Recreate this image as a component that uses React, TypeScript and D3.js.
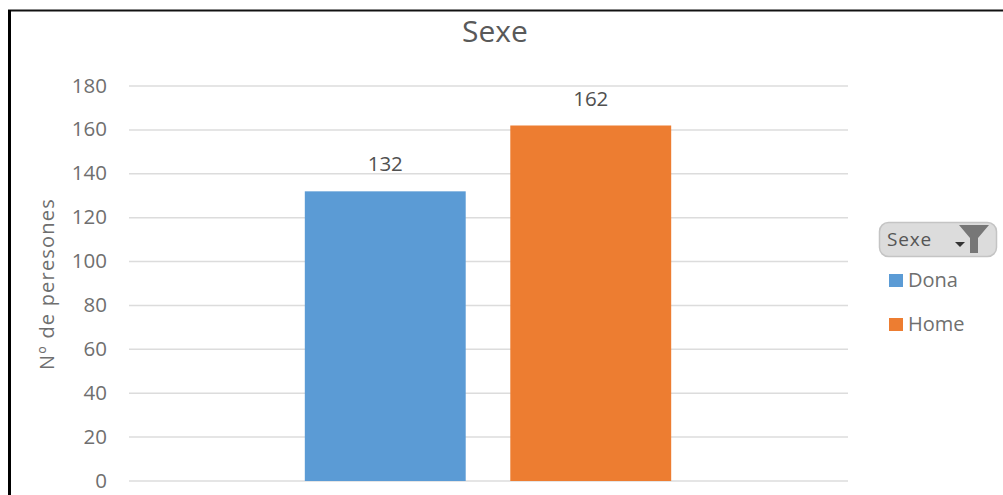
import React from "react";
import * as d3 from "d3";

const categories = ["Dona", "Home"];
const values = [132, 162];
const colors = ["#5B9BD5", "#ED7D31"];
const yTicks = [0, 20, 40, 60, 80, 100, 120, 140, 160, 180];
const chartTitle = "Sexe";
const yAxisTitle = "Nº de peresones";
const font = "'Open Sans', 'Noto Sans', sans-serif";
const inkColor = "#6f6f6f";

export default function App() {
  const y = d3.scaleLinear().domain([0, 180]).range([481, 86]);
  const x = d3.scaleBand<string>().domain(categories).range([128.5, 847.5]).paddingInner(0.217).paddingOuter(0.858);

  return (
    <svg
      width={1003}
      height={495}
      style={{ position: "absolute", left: 0, top: 0, background: "#ffffff" }}
    >
      {/* frame: only the top and left edges fall inside the canvas */}
      <line x1={8} x2={1003} y1={10.5} y2={10.5} stroke="#111" strokeWidth={2} />
      <line x1={9.5} x2={9.5} y1={10} y2={495} stroke="#000" strokeWidth={3} />

      <text x={495} y={42} textAnchor="middle" fontFamily={font} fontSize={30} fill="#595959">
        {chartTitle}
      </text>

      {yTicks.map((t) => (
        <g key={t}>
          <line x1={129} x2={848} y1={y(t)} y2={y(t)} stroke="#dcdcdc" strokeWidth={1.5} />
          <text x={107} y={y(t) + 6.5} textAnchor="end" fontFamily={font} fontSize={20.5} fill={inkColor}>
            {t}
          </text>
        </g>
      ))}

      <text
        transform={`translate(54,284) rotate(-90)`}
        textAnchor="middle"
        fontFamily={font}
        fontSize={20}
        letterSpacing={1.2}
        fill={inkColor}
      >
        {yAxisTitle}
      </text>

      {categories.map((c, i) => (
        <g key={c}>
          <rect x={x(c)} y={y(values[i])} width={x.bandwidth()} height={y(0) - y(values[i])} fill={colors[i]} />
          <text
            x={(x(c) ?? 0) + x.bandwidth() / 2}
            y={y(values[i]) - 20}
            textAnchor="middle"
            fontFamily={font}
            fontSize={20.5}
            fill="#505050"
          >
            {values[i]}
          </text>
        </g>
      ))}

      {/* field filter button */}
      <rect x={879.5} y={222.5} width={117} height={34} rx={9} fill="#dcdcdc" stroke="#c4c4c4" strokeWidth={1.5} />
      <text x={887} y={246} fontFamily={font} fontSize={19} letterSpacing={0.8} fill="#555">
        {chartTitle}
      </text>
      <path d="M955 242 L965 242 L960 247 Z" fill="#333" />
      <path d="M959 225 L989 225 L978 238 L978 253 L970 253 L970 238 Z" fill="#777" />

      {/* legend */}
      {categories.map((c, i) => (
        <g key={c}>
          <rect x={889} y={274 + i * 44} width={14} height={13} fill={colors[i]} />
          <text x={908} y={287 + i * 44} fontFamily={font} fontSize={20} fill={inkColor}>
            {c}
          </text>
        </g>
      ))}
    </svg>
  );
}
